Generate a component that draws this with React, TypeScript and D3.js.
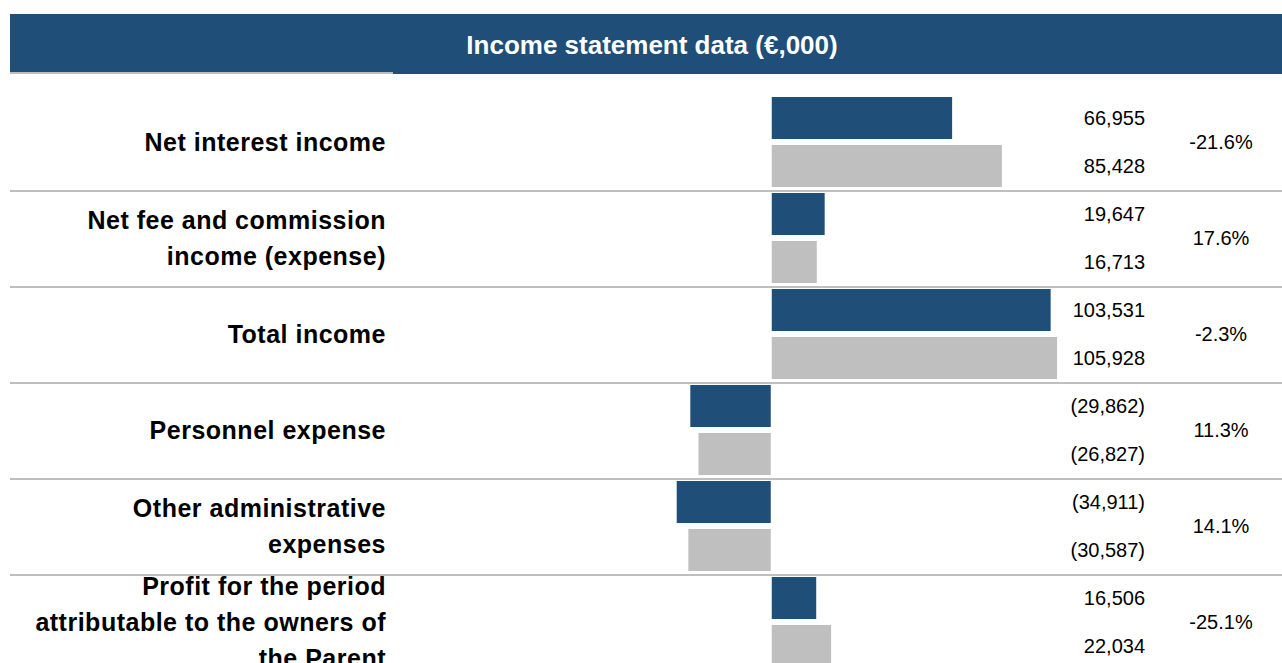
import React from "react";
import * as d3 from "d3";

const categories = [
  "Net interest income",
  "Net fee and commission income (expense)",
  "Total income",
  "Personnel expense",
  "Other administrative expenses",
  "Profit for the period attributable to the owners of the Parent",
];
const labelLines = [
  ["Net interest income"],
  ["Net fee and commission", "income (expense)"],
  ["Total income"],
  ["Personnel expense"],
  ["Other administrative", "expenses"],
  ["Profit for the period", "attributable to the owners of", "the Parent"],
];
const current = [66955, 19647, 103531, -29862, -34911, 16506];
const prior = [85428, 16713, 105928, -26827, -30587, 22034];
const change = ["-21.6%", "17.6%", "-2.3%", "11.3%", "14.1%", "-25.1%"];
const series = ["current", "prior"];

const W = 1282;
const H = 663;
const BLUE = "#1F4E79";
const GREY = "#BFBFBF";
const FONT = "'Liberation Sans', Arial, sans-serif";

const fmt = d3.format(",");
const fmtVal = (v: number) => (v < 0 ? `(${fmt(-v)})` : fmt(v));

const App = () => {
  const y = d3.scaleBand().domain(categories).range([94, 94 + 96 * 6]);
  const inner = d3.scaleBand().domain(series).range([3, 93]).paddingInner(0.125);
  const x = d3.scaleLinear().domain([-40000, 120000]).range([663, 1094]);

  return (
    <svg width={W} height={H} style={{ position: "absolute", left: 0, top: 0, display: "block" }}>
      {/* header */}
      <rect x={10} y={14} width={W - 10} height={60} fill={BLUE} />
      <rect x={10} y={72} width={383} height={2} fill={GREY} />
      <text x={652} y={45} fill="white" fontFamily={FONT} fontWeight="bold" fontSize={26}
        textAnchor="middle" dominantBaseline="central">
        Income statement data (€,000)
      </text>

      {categories.map((c, i) => {
        const y0 = y(c)!;
        const cy = y0 + y.bandwidth() / 2;
        const vals = [current[i], prior[i]];
        const lines = labelLines[i];
        return (
          <g key={c}>
            {i > 0 && <rect x={10} y={y0} width={W - 10} height={2} fill={GREY} />}
            {vals.map((v, j) => {
              const by = y0 + inner(series[j])!;
              const pos = v >= 0;
              return (
                <g key={j}>
                  <rect
                    x={pos ? x(0) + 1 : x(v)}
                    y={by}
                    width={Math.abs(x(v) - x(0))}
                    height={inner.bandwidth()}
                    fill={j === 0 ? BLUE : GREY}
                  />
                  <text x={1145} y={by + inner.bandwidth() / 2} textAnchor="end" dominantBaseline="central"
                    fontFamily={FONT} fontSize={20} fill="#000">
                    {fmtVal(v)}
                  </text>
                </g>
              );
            })}
            <text x={1221} y={cy} textAnchor="middle" dominantBaseline="central"
              fontFamily={FONT} fontSize={20} fill="#000">
              {change[i]}
            </text>
            {lines.map((l, k) => (
              <text key={k} x={386} y={cy + (k - (lines.length - 1) / 2) * 36}
                textAnchor="end" dominantBaseline="central" fontFamily={FONT}
                fontWeight="bold" fontSize={25} letterSpacing={0.5} fill="#000">
                {l}
              </text>
            ))}
          </g>
        );
      })}
    </svg>
  );
};

export default App;
